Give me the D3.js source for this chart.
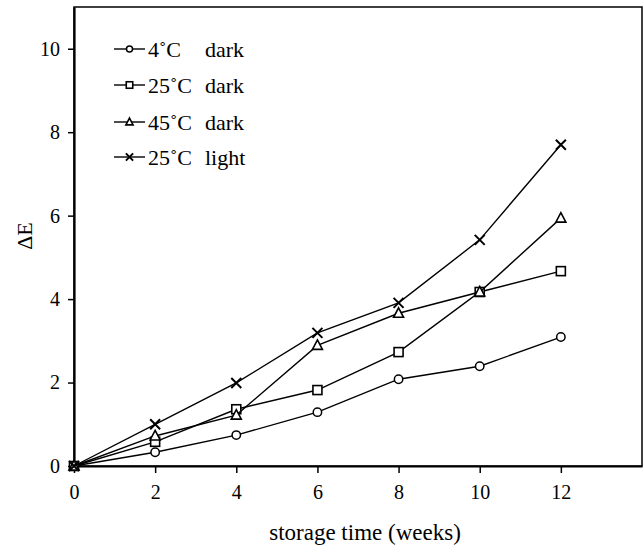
<!DOCTYPE html>
<html><head><meta charset="utf-8">
<script src="https://cdn.jsdelivr.net/npm/d3@7"></script>
<style>body{margin:0;background:#fff}svg{display:block}text{font-family:"Liberation Serif","Times New Roman",serif;fill:#000}</style>
</head><body>
<svg id="c" width="644" height="545"></svg>
<script>
const weeks = [0, 2, 4, 6, 8, 10, 12];
const dark4 = [0, 0.33, 0.74, 1.29, 2.08, 2.39, 3.09];
const dark25 = [0, 0.58, 1.36, 1.82, 2.73, 4.17, 4.67];
const dark45 = [0, 0.72, 1.22, 2.89, 3.66, 4.17, 5.94];
const light25 = [0, 1.0, 1.99, 3.19, 3.91, 5.42, 7.7];
const seriesNames = ["4˚C", "25˚C", "45˚C", "25˚C"];
const seriesCond = ["dark", "dark", "dark", "light"];
const seriesMarks = ["circle", "square", "triangle", "cross"];
const xTicks = [0, 2, 4, 6, 8, 10, 12];
const yTicks = [0, 2, 4, 6, 8, 10];

const svg = d3.select("#c");
const L = 74, R = 642, T = 7, B = 466;
const x = d3.scaleLinear().domain([0, 14]).range([L, R]);
const y = d3.scaleLinear().domain([0, 11]).range([B, T]);

// frame
svg.append("rect").attr("x", L).attr("y", T).attr("width", R - L).attr("height", B - T)
  .attr("fill", "none").attr("stroke", "#000").attr("stroke-width", 1.5);

const xa = svg.append("g").attr("transform", `translate(0,${B})`)
  .call(d3.axisBottom(x).tickValues(xTicks).tickSize(7).tickSizeOuter(0).tickPadding(12));
const ya = svg.append("g").attr("transform", `translate(${L},0)`)
  .call(d3.axisLeft(y).tickValues(yTicks).tickSize(6).tickSizeOuter(0).tickPadding(8));
[xa, ya].forEach(a => {
  a.select(".domain").attr("stroke", "#000").attr("stroke-width", 2.2);
  a.selectAll(".tick line").attr("stroke", "#000").attr("stroke-width", 1.5);
  a.selectAll("text").style("font-size", "20px").attr("fill", "#000");
});
xa.selectAll("text").attr("dy", "0.71em");

const all = [dark4, dark25, dark45, light25];
const line = d3.line().x((d, i) => x(weeks[i])).y(d => y(d));

function marker(g, type, cx, cy, s) {
  s = s || 1;
  if (type === "circle") g.append("circle").attr("cx", cx).attr("cy", cy).attr("r", 4.2 * s)
    .attr("fill", "#fff").attr("stroke", "#000").attr("stroke-width", 1.5);
  else if (type === "square") g.append("rect").attr("x", cx - 4.5 * s).attr("y", cy - 4.5 * s).attr("width", 9 * s).attr("height", 9 * s)
    .attr("fill", "#fff").attr("stroke", "#000").attr("stroke-width", 1.6);
  else if (type === "triangle") g.append("path").attr("d", `M${cx},${cy-5.5*s}L${cx+5*s},${cy+4*s}L${cx-5*s},${cy+4*s}Z`)
    .attr("fill", "#fff").attr("stroke", "#000").attr("stroke-width", 1.6);
  else g.append("path").attr("d", `M${cx-5*s},${cy-5*s}L${cx+5*s},${cy+5*s}M${cx-5*s},${cy+5*s}L${cx+5*s},${cy-5*s}`)
    .attr("stroke", "#000").attr("stroke-width", 2);
}

all.forEach((vals, k) => {
  const g = svg.append("g");
  g.append("path").datum(vals).attr("d", line).attr("fill", "none").attr("stroke", "#000").attr("stroke-width", 1.4);
  vals.forEach((v, i) => marker(g, seriesMarks[k], x(weeks[i]), y(v)));
});

// legend
const legY = [49, 85, 122, 157];
seriesNames.forEach((n, k) => {
  const g = svg.append("g");
  g.append("line").attr("x1", 114).attr("x2", 145).attr("y1", legY[k]).attr("y2", legY[k])
    .attr("stroke", "#000").attr("stroke-width", 1.4);
  marker(g, seriesMarks[k], 129.5, legY[k], 0.72);
  g.append("text").attr("x", 148).attr("y", legY[k]).attr("dy", "0.35em").style("font-size", "22px").text(n);
  g.append("text").attr("x", 205).attr("y", legY[k]).attr("dy", "0.35em").style("font-size", "22px").text(seriesCond[k]);
});

svg.append("text").attr("x", 365).attr("y", 532).attr("dy", "0.35em").attr("text-anchor", "middle")
  .style("font-size", "23px").text("storage time (weeks)");
svg.append("text").attr("transform", "translate(24,236) rotate(-90)").attr("text-anchor", "middle").attr("dy", "0.35em")
  .style("font-size", "22px").text("ΔE");
</script>
</body></html>
